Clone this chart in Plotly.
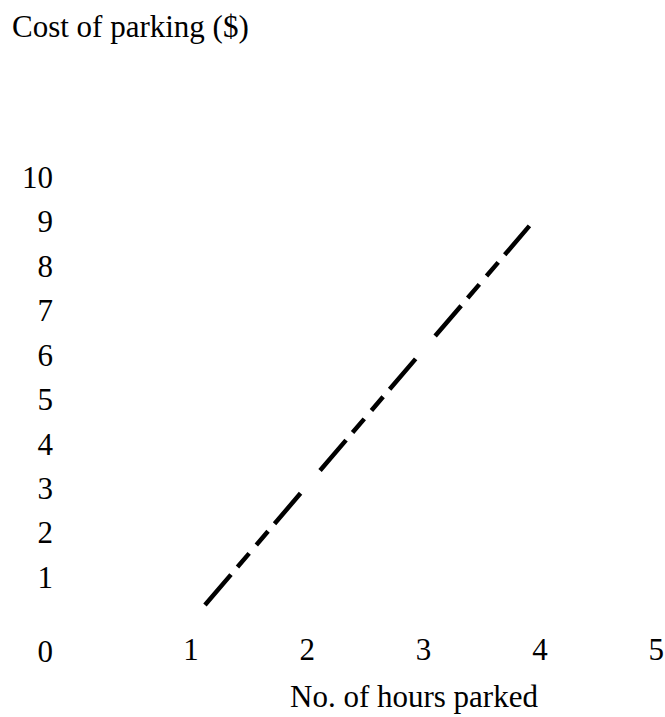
import plotly.graph_objects as go

# Data
hours = [1.12, 3.91]         # No. of hours parked (line start / end)
cost = [0.37, 8.9]           # Cost of parking ($)

x_tick_vals = [1, 2, 3, 4, 5]
x_tick_text = ["1", "2", "3", "4", "5"]
y_tick_vals = [-0.665, 1, 2, 3, 4, 5, 6, 7, 8, 9, 10]
y_tick_text = ["0", "1", "2", "3", "4", "5", "6", "7", "8", "9", "10"]

FONT = "Liberation Serif, Times New Roman, serif"
FS = 31

fig = go.Figure(
    go.Scatter(
        x=hours,
        y=cost,
        mode="lines",
        line=dict(color="black", width=4.5,
                  dash="40px,10px,18px,11px,18px,10px,40px,30px"),
        showlegend=False,
        hoverinfo="skip",
    )
)

fig.update_layout(
    width=665,
    height=717,
    autosize=False,
    paper_bgcolor="white",
    plot_bgcolor="white",
    margin=dict(l=54, r=0, t=140, b=27),
    font=dict(family=FONT, size=FS, color="black"),
    title=dict(
        text="Cost of parking ($)",
        x=12 / 665, xref="container", xanchor="left",
        y=1 - 26 / 717, yref="container", yanchor="middle",
        font=dict(family=FONT, size=FS, color="black"),
    ),
    xaxis=dict(
        range=[-0.178, 5.0757],
        showgrid=False, zeroline=False, showline=False,
        tickmode="array", tickvals=x_tick_vals, ticktext=x_tick_text,
        ticks="",
        ticklabeloverflow="allow",
        tickfont=dict(family=FONT, size=FS, color="black"),
        anchor="free", position=0.1127,
        fixedrange=True,
    ),
    yaxis=dict(
        range=[-1.5425, 10.8325],
        showgrid=False, zeroline=False, showline=False,
        tickmode="array", tickvals=y_tick_vals, ticktext=y_tick_text,
        ticks="",
        tickfont=dict(family=FONT, size=FS, color="black"),
        fixedrange=True,
    ),
    annotations=[
        dict(
            text="No. of hours parked",
            x=2.917, xref="x", xanchor="center",
            y=-0.0127, yref="paper", yanchor="middle",
            showarrow=False,
            font=dict(family=FONT, size=FS, color="black"),
        )
    ],
)

fig.write_html(
    "out.html",
    config={"displayModeBar": False},
    post_script="document.body.style.margin='0';document.body.style.overflow='hidden';",
)
